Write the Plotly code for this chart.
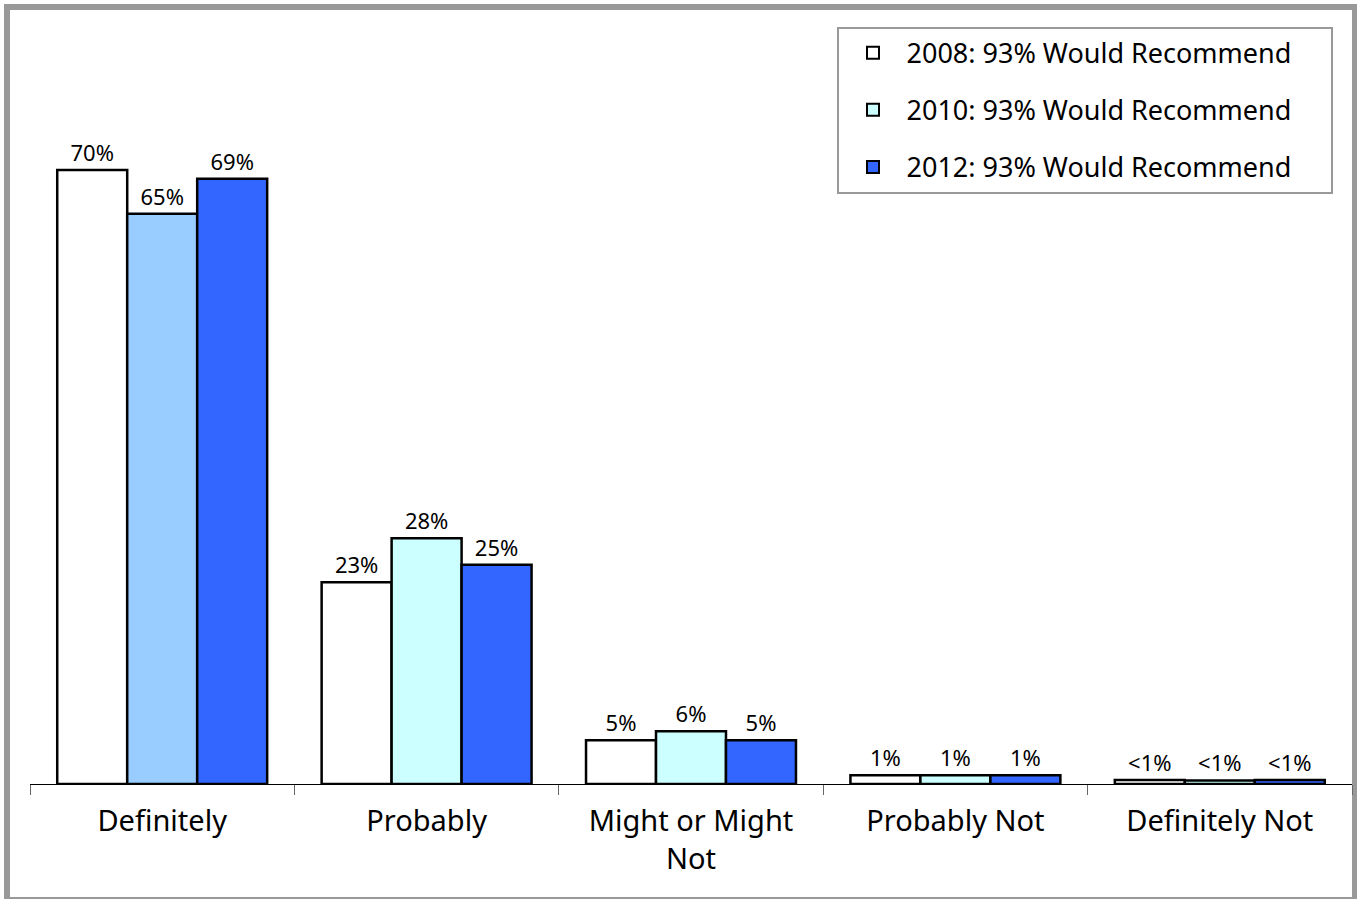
import plotly.graph_objects as go

categories = ["Definitely", "Probably", "Might or Might<br>Not", "Probably Not", "Definitely Not"]
series_names = ["2008: 93% Would Recommend", "2010: 93% Would Recommend", "2012: 93% Would Recommend"]
values_2008 = [70, 23, 5, 1, 0.45]
values_2010 = [65, 28, 6, 1, 0.4]
values_2012 = [69, 25, 5, 1, 0.45]
labels_2008 = ["70%", "23%", "5%", "1%", "<1%"]
labels_2010 = ["65%", "28%", "6%", "1%", "<1%"]
labels_2012 = ["69%", "25%", "5%", "1%", "<1%"]
colors_2008 = ["#FFFFFF"] * 5
colors_2010 = ["#99CCFF", "#CCFFFF", "#CCFFFF", "#CCFFFF", "#CCFFFF"]
colors_2012 = ["#3366FF"] * 5
legend_colors = ["#FFFFFF", "#CCFFFF", "#3366FF"]

FONT = "Noto Sans"
PAD = "\u00a0" * 5  # right padding inside the legend box

fig = go.Figure()
for i, (vals, labs, cols) in enumerate([
    (values_2008, labels_2008, colors_2008),
    (values_2010, labels_2010, colors_2010),
    (values_2012, labels_2012, colors_2012),
]):
    fig.add_trace(go.Bar(
        x=categories, y=vals, name=series_names[i],
        text=labs, textposition="outside", constraintext="none",
        textfont=dict(family=FONT, size=22, color="#000000"),
        marker=dict(color=cols, line=dict(color="#000000", width=2.5)),
        cliponaxis=False, legendgroup=f"g{i}", showlegend=False,
    ))
for i in range(3):
    # legend entry with the series' uniform colour, on a hidden axis
    fig.add_trace(go.Bar(
        x=[categories[0]], y=[None], name=series_names[i] + PAD,
        marker=dict(color=legend_colors[i], line=dict(color="#000000", width=2)),
        legendgroup=f"g{i}", showlegend=True, hoverinfo="skip",
        xaxis="x2", yaxis="y2",
    ))

fig.update_layout(
    width=1357, height=899,
    margin=dict(l=30, r=5, t=12, b=115),
    paper_bgcolor="#FFFFFF", plot_bgcolor="#FFFFFF",
    barmode="group", bargap=0.206, bargroupgap=0,
    font=dict(family=FONT, color="#000000"),
    showlegend=True,
    legend=dict(
        x=0.986, y=0.981, xanchor="right", yanchor="top",
        bgcolor="#FFFFFF", bordercolor="#999999", borderwidth=2,
        font=dict(family=FONT, size=27, color="#000000"),
        tracegroupgap=19, itemwidth=57, traceorder="grouped",
    ),
    xaxis=dict(
        type="category", showline=True, linecolor="#000000", linewidth=1,
        ticks="outside", ticklen=10, tickcolor="#666666", tickwidth=1,
        tickson="boundaries", showgrid=False, ticklabelstandoff=11,
        tickfont=dict(family=FONT, size=29, color="#000000"),
    ),
    yaxis=dict(range=[0, 88], visible=False, showgrid=False, zeroline=False),
    xaxis2=dict(visible=False, overlaying="x", type="category"),
    yaxis2=dict(visible=False, overlaying="y", range=[0, 88]),
    shapes=[dict(
        type="rect", xref="paper", yref="paper",
        x0=(7 - 30) / 1322, x1=(1355 - 30) / 1322,
        y0=(784 - 900) / 772, y1=(784 - 7) / 772,
        line=dict(color="#999999", width=6), fillcolor="rgba(0,0,0,0)",
        layer="below",
    )],
)

fig.write_html("out.html")
